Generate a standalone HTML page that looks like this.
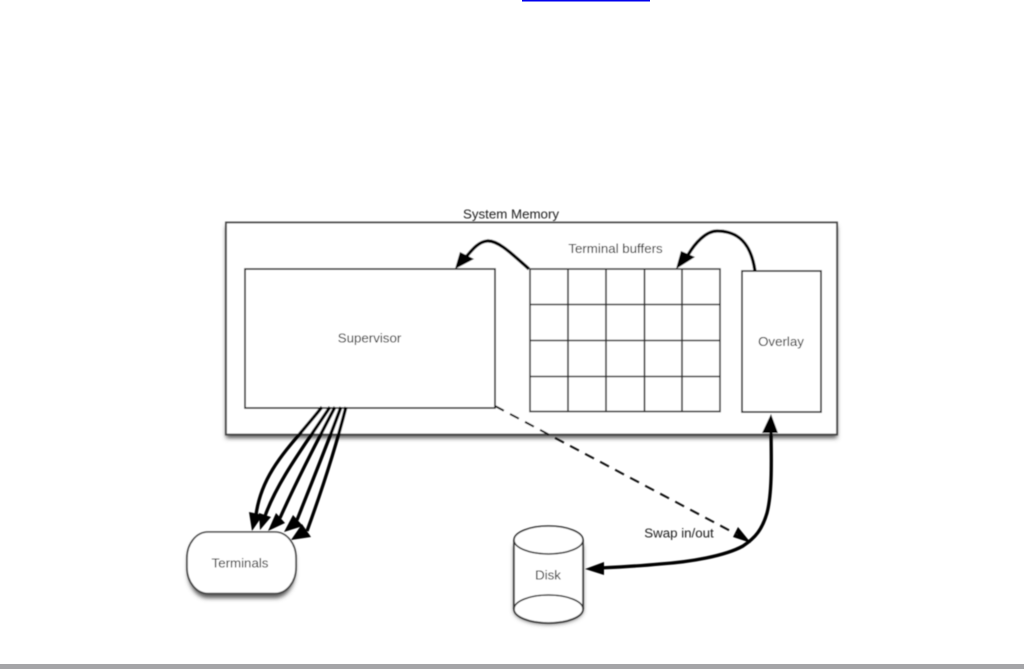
<!DOCTYPE html>
<html>
<head>
<meta charset="utf-8">
<style>
html,body{margin:0;padding:0;background:#fff;width:1024px;height:669px;overflow:hidden}
svg{display:block}
text{font-family:"Liberation Sans",sans-serif;font-size:13.300px;fill:#1c1c1c;text-anchor:middle}
</style>
</head>
<body>
<svg width="1024" height="669" viewBox="0 0 1024 669" xmlns="http://www.w3.org/2000/svg">
<defs>
<filter id="sh" x="-10%" y="-10%" width="120%" height="130%"><feGaussianBlur stdDeviation="2.500"/></filter>
<filter id="soft" x="-5%" y="-5%" width="110%" height="110%"><feGaussianBlur stdDeviation="0.550"/></filter>
</defs>
<rect x="522" y="0" width="128" height="1.500" fill="#0000ee"/>
<rect x="0" y="664" width="1024" height="5" fill="#a5a5a8"/>
<g filter="url(#sh)" fill="#555">
<rect x="226" y="226" width="611" height="212"/>
<rect x="188" y="536" width="107" height="62" rx="20" ry="26"/>
<path d="M514 545V610A34.500 14 0 0 0 583 610V545Z"/>
</g>
<g filter="url(#soft)">
<rect x="226" y="222.500" width="611" height="212" fill="#fff" stroke="#444" stroke-width="1.800"/>
<rect x="245" y="269" width="250" height="139" fill="#fff" stroke="#222" stroke-width="1.600"/>
<g fill="none" stroke="#333" stroke-width="1.600">
<rect x="530" y="269" width="190" height="142.500" fill="#fff"/>
<path d="M568 269V411.500M606 269V411.500M644.500 269V411.500M682 269V411.500M530 304.500H720M530 340.500H720M530 376.500H720"/>
</g>
<rect x="742" y="271" width="79" height="141" fill="#fff" stroke="#222" stroke-width="1.600"/>
<rect x="187" y="532" width="109" height="61.500" rx="21" ry="26" fill="#fff" stroke="#444" stroke-width="1.600"/>
<path d="M514 540V609A34.500 14 0 0 0 583 609V540" fill="#fff" stroke="#333" stroke-width="1.600"/>
<ellipse cx="548.500" cy="540" rx="34.500" ry="14" fill="#fff" stroke="#333" stroke-width="1.600"/>
<path d="M514 609A34.500 14 0 0 1 583 609" fill="none" stroke="#333" stroke-width="1.600"/>
<g fill="none" stroke="#000" stroke-width="3.300">
<path d="M529 269C512 254 498 240 487 241C478 242 472 250 466 257"/>
<path d="M755 271C751 243 738 231 717 231C706 231 695 243 688 255"/>
<path d="M322 407C292 445 262 470 256 515"/>
<path d="M330 407C305 445 278 480 265 516"/>
<path d="M335 407C315 445 296 482 280 518"/>
<path d="M341 407C325 450 312 482 297 520"/>
<path d="M346 407C335 450 322 490 307 531"/>
<path d="M771 428C771 450 773 490 767 513C762 530 755 538 743 546C725 556 690 562 660 564C640 566 620 567 600 568"/>
</g>
<g fill="#000">
<path d="M455 269L460 252L474 259Z"/>
<path d="M676 269L681 251L695 257Z"/>
<path d="M252 531L249 512L263 515Z"/>
<path d="M260 530L259 513L271 517Z"/>
<path d="M268 531L276 513L285 523Z"/>
<path d="M284 532L293 515L303 526Z"/>
<path d="M291 540L302 524L311 537Z"/>
<path d="M771 414L762 433H778Z"/>
<path d="M585 569L604 562L604 575Z"/>
<path d="M751 543L733 537L738 527Z"/>
</g>
<path d="M495 406L738 535" fill="none" stroke="#111" stroke-width="2" stroke-dasharray="10 7"/>
<text x="511" y="218.500">System Memory</text>
<text x="615.500" y="253">Terminal buffers</text>
<text x="369.500" y="342.500">Supervisor</text>
<text x="781" y="346">Overlay</text>
<text x="240" y="567.500">Terminals</text>
<text x="548" y="579.500">Disk</text>
<text x="679" y="537.500">Swap in/out</text>
</g>
</svg>
</body>
</html>
